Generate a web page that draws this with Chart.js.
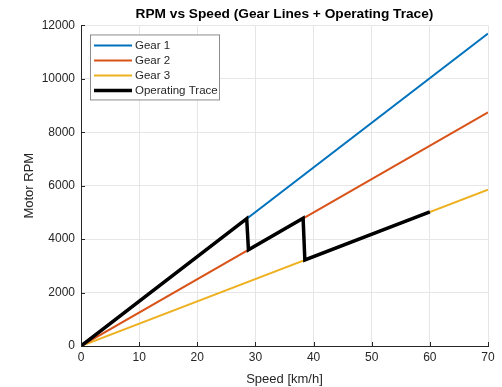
<!DOCTYPE html>
<html>
<head>
<meta charset="utf-8">
<script src="https://cdn.jsdelivr.net/npm/chart.js@4.4.0/dist/chart.umd.min.js"></script>
<style>
    html, body { margin: 0; padding: 0; background: #ffffff; }
    #wrap { width: 502px; height: 387px; }
</style>
</head>
<body>
<div id="wrap"><canvas id="rpmChart"></canvas></div>
<script>
// Gear lines (speed km/h -> motor rpm)
const gearSpeeds = [0, 70];
const gear1Rpm = [0, 11700];
const gear2Rpm = [0, 8750];
const gear3Rpm = [0, 5850];

// Operating trace, shifting up at ~28.5 and ~38.3 km/h
const traceSpeeds = [0, 28.5, 28.8, 38.2, 38.5, 60];
const traceRpm = [0, 4770, 3600, 4780, 3220, 5020];

const xTicks = [0, 10, 20, 30, 40, 50, 60, 70];
const yTicks = [0, 2000, 4000, 6000, 8000, 10000, 12000];

const seriesNames = ['Gear 1', 'Gear 2', 'Gear 3', 'Operating Trace'];
const seriesColors = ['#0072BD', '#D95319', '#EDB120', '#000000'];

const toPoints = (xs, ys) => xs.map((x, i) => ({ x: x, y: ys[i] }));

const textColor = '#262626';
const fontFamily = '"Liberation Sans", Arial, Helvetica, sans-serif';

// Legend drawn inside the plot area, top-left, like the original
const insideLegend = {
    id: 'insideLegend',
    afterDraw(chart) {
        const ctx = chart.ctx;
        const area = chart.chartArea;
        const left = area.left + 9;
        const top = area.top + 9;
        const w = 129, h = 65;
        ctx.save();
        ctx.fillStyle = '#ffffff';
        ctx.fillRect(left, top, w, h);
        ctx.strokeStyle = '#8c8c8c';
        ctx.lineWidth = 1;
        ctx.strokeRect(left + 0.5, top + 0.5, w, h);
        ctx.font = '11.5px ' + fontFamily;
        ctx.textBaseline = 'middle';
        chart.data.datasets.forEach((ds, i) => {
            const y = top + 11 + i * 15;
            ctx.strokeStyle = ds.borderColor;
            ctx.lineWidth = ds.borderWidth;
            ctx.beginPath();
            ctx.moveTo(left + 4, y);
            ctx.lineTo(left + 42, y);
            ctx.stroke();
            ctx.fillStyle = textColor;
            ctx.fillText(ds.label, left + 45, y);
        });
        ctx.restore();
    }
};

// MATLAB-style ticks pointing into the plot
const innerTicks = {
    id: 'innerTicks',
    afterDatasetsDraw(chart) {
        const ctx = chart.ctx;
        const a = chart.chartArea;
        const xs = chart.scales.x, ys = chart.scales.y;
        ctx.save();
        ctx.strokeStyle = textColor;
        ctx.lineWidth = 1;
        ctx.beginPath();
        xTicks.forEach(v => {
            const px = Math.round(xs.getPixelForValue(v)) + 0.5;
            ctx.moveTo(px, a.bottom);
            ctx.lineTo(px, a.bottom - 4);
        });
        yTicks.forEach(v => {
            const py = Math.round(ys.getPixelForValue(v)) + 0.5;
            ctx.moveTo(a.left, py);
            ctx.lineTo(a.left + 4, py);
        });
        ctx.stroke();
        ctx.restore();
    }
};

const ctx = document.getElementById('rpmChart').getContext('2d');
new Chart(ctx, {
    type: 'scatter',
    data: {
        datasets: [
            { label: seriesNames[0], data: toPoints(gearSpeeds, gear1Rpm), borderColor: seriesColors[0], borderWidth: 2, order: 1 },
            { label: seriesNames[1], data: toPoints(gearSpeeds, gear2Rpm), borderColor: seriesColors[1], borderWidth: 2, order: 1 },
            { label: seriesNames[2], data: toPoints(gearSpeeds, gear3Rpm), borderColor: seriesColors[2], borderWidth: 2, order: 1 },
            { label: seriesNames[3], data: toPoints(traceSpeeds, traceRpm), borderColor: seriesColors[3], borderWidth: 3.5, order: 0 }
        ].map(ds => Object.assign(ds, {
            showLine: true,
            pointRadius: 0,
            pointHoverRadius: 0,
            fill: false,
            tension: 0,
            borderJoinStyle: 'miter'
        }))
    },
    options: {
        responsive: true,
        maintainAspectRatio: false,
        animation: false,
        layout: { padding: { left: 0, right: 14, top: 0, bottom: 0 } },
        plugins: {
            legend: { display: false },
            tooltip: { enabled: false },
            title: {
                display: true,
                fullSize: false,
                text: 'RPM vs Speed (Gear Lines + Operating Trace)',
                color: '#000000',
                font: { family: fontFamily, size: 13.7, weight: 'bold' },
                padding: { top: 6, bottom: 3 }
            }
        },
        scales: {
            x: {
                type: 'linear',
                min: 0,
                max: 70,
                afterBuildTicks: scale => { scale.ticks = xTicks.map(v => ({ value: v })); },
                afterFit: scale => { scale.height = 41; },
                ticks: { color: textColor, font: { family: fontFamily, size: 12 }, padding: 4, maxRotation: 0, callback: v => String(v) },
                grid: { color: '#e6e6e6', tickLength: 0 },
                border: { color: textColor, width: 1 },
                title: {
                    display: true,
                    text: 'Speed [km/h]',
                    color: textColor,
                    font: { family: fontFamily, size: 13 },
                    padding: { top: 2, bottom: 0 }
                }
            },
            y: {
                type: 'linear',
                min: 0,
                max: 12000,
                afterBuildTicks: scale => { scale.ticks = yTicks.map(v => ({ value: v })); },
                afterFit: scale => { scale.width = 81; },
                ticks: { color: textColor, font: { family: fontFamily, size: 12 }, padding: 6, callback: v => String(v) },
                grid: { color: '#e6e6e6', tickLength: 0 },
                border: { color: textColor, width: 1 },
                title: {
                    display: true,
                    text: 'Motor RPM',
                    color: textColor,
                    font: { family: fontFamily, size: 13 },
                    padding: { top: 22, bottom: 0 }
                }
            }
        }
    },
    plugins: [insideLegend, innerTicks]
});
</script>
</body>
</html>
